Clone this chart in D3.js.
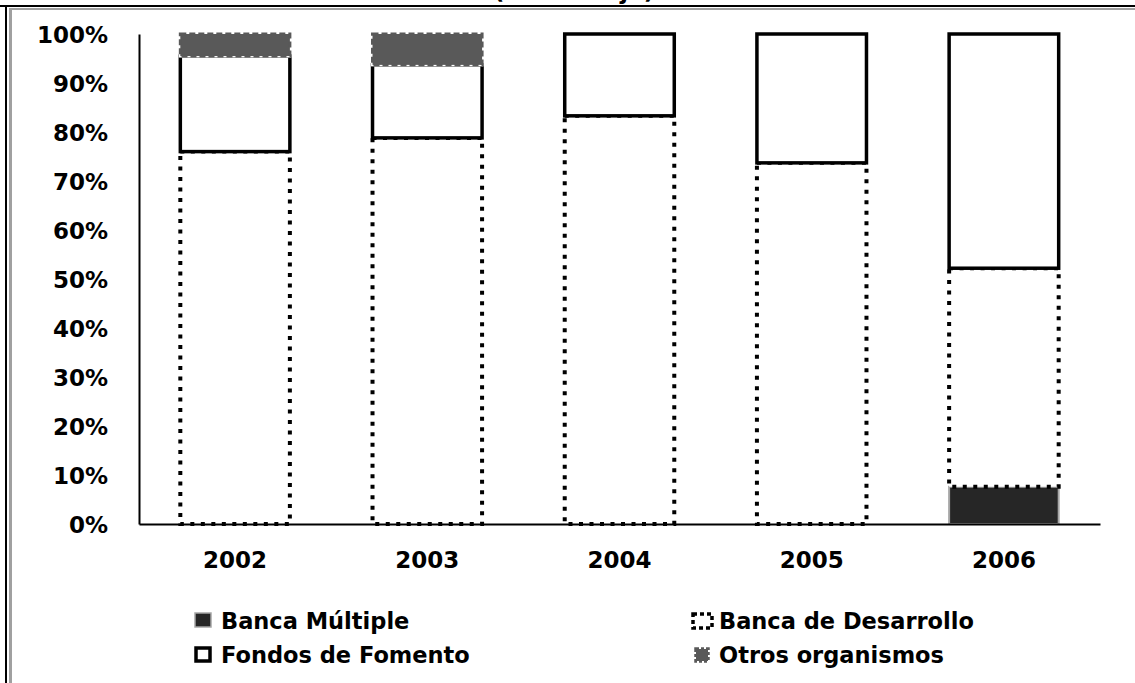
<!DOCTYPE html>
<html>
<head>
<meta charset="utf-8">
<script src="https://cdn.jsdelivr.net/npm/d3@7/dist/d3.min.js"></script>
<style>
  html, body { margin: 0; padding: 0; background: #fff; }
  svg { display: block; }
  text { font-family: "DejaVu Sans", sans-serif; font-weight: bold; fill: #000; }
</style>
</head>
<body>
<svg id="chart" width="1135" height="683"></svg>
<script>
// Composition of financing by source, share of total (%)
const years = ["2002", "2003", "2004", "2005", "2006"];
const bancaMultiple   = [0, 0, 0, 0, 7.6];
const bancaDesarrollo = [76.0, 78.8, 83.3, 73.7, 44.6];
const fondosFomento   = [19.5, 14.9, 16.7, 26.3, 47.8];
const otrosOrganismos = [4.5, 6.3, 0, 0, 0];
const tickValues = [0, 10, 20, 30, 40, 50, 60, 70, 80, 90, 100];
const tickLabels = ["0%", "10%", "20%", "30%", "40%", "50%", "60%", "70%", "80%", "90%", "100%"];
const seriesNames = ["Banca Múltiple", "Banca de Desarrollo", "Fondos de Fomento", "Otros organismos"];
const titleText = "(Porcentaje)";

const keys = ["bm", "bd", "ff", "oo"];
const rows = years.map((y, i) => ({
  year: y,
  bm: bancaMultiple[i],
  bd: bancaDesarrollo[i],
  ff: fondosFomento[i],
  oo: otrosOrganismos[i]
}));

const svg = d3.select("#chart");

const x = d3.scaleBand().domain(years).range([139, 1100]).paddingInner(0.43).paddingOuter(0.215);
const y = d3.scaleLinear().domain([0, 100]).range([524, 34]);

// Series styles
const styles = {
  bm: { fill: "#262626", stroke: "#a6a6a6", width: 2, dash: null, under: false },
  bd: { fill: "#ffffff", stroke: "#000000", width: 4, dash: "4 6.5", under: false },
  ff: { fill: "#ffffff", stroke: "#000000", width: 3.5, dash: null, under: false },
  oo: { fill: "#595959", stroke: "#595959", width: 3, dash: "6 3", under: true }
};

// Title, running off the top edge above the frame
svg.append("text")
  .attr("x", 574).attr("y", -1)
  .attr("text-anchor", "middle")
  .style("font-size", "23px")
  .text(titleText);

// Frame
svg.append("rect").attr("x", 0).attr("y", 5).attr("width", 1135).attr("height", 2).attr("fill", "#000");
svg.append("rect").attr("x", 9).attr("y", 8).attr("width", 1126).attr("height", 2).attr("fill", "#a0a0a0");
svg.append("rect").attr("x", 5).attr("y", 5).attr("width", 2).attr("height", 678).attr("fill", "#000");
svg.append("rect").attr("x", 9).attr("y", 8).attr("width", 3).attr("height", 675).attr("fill", "#a0a0a0");

// Stacked bars
const stacked = d3.stack().keys(keys)(rows);
const layers = svg.append("g").attr("class", "bars");
stacked.forEach(layer => {
  const st = styles[layer.key];
  const g = layers.append("g").attr("class", "series-" + layer.key);
  const data = layer.filter(d => d[1] - d[0] > 0);
  if (st.under) {
    g.selectAll("rect.under").data(data).join("rect")
      .attr("class", "under")
      .attr("x", d => x(d.data.year))
      .attr("width", x.bandwidth())
      .attr("y", d => y(d[1]))
      .attr("height", d => y(d[0]) - y(d[1]))
      .attr("fill", "none")
      .attr("stroke", "#fff")
      .attr("stroke-width", st.width);
  }
  g.selectAll("rect.seg").data(data).join("rect")
    .attr("class", "seg")
    .attr("x", d => x(d.data.year))
    .attr("width", x.bandwidth())
    .attr("y", d => y(d[1]))
    .attr("height", d => y(d[0]) - y(d[1]))
    .attr("fill", st.fill)
    .attr("stroke", st.stroke)
    .attr("stroke-width", st.width)
    .attr("stroke-dasharray", st.dash);
});

// Y axis
const yAxis = d3.axisLeft(y)
  .tickValues(tickValues)
  .tickFormat((d, i) => tickLabels[i])
  .tickSize(0)
  .tickPadding(31);
const gy = svg.append("g").attr("transform", "translate(139,0)").call(yAxis);
gy.select(".domain").attr("stroke", "#000").attr("stroke-width", 2);
gy.selectAll("text").style("font-size", "23px").attr("dy", "0.36em");

// X axis
const xAxis = d3.axisBottom(x).tickSize(0).tickPadding(36);
const gx = svg.append("g").attr("transform", "translate(0,524)").call(xAxis);
gx.select(".domain").attr("stroke", "#000").attr("stroke-width", 2);
gx.selectAll("text").style("font-size", "23px").attr("dy", "0.36em");

// Legend
const legend = svg.append("g").attr("class", "legend");
const legendItems = [
  { key: "bm", name: seriesNames[0], sx: 195, sy: 613, sw: 16, sh: 14, tx: 221, ty: 629 },
  { key: "bd", name: seriesNames[1], sx: 693, sy: 614, sw: 19, sh: 14, tx: 719, ty: 629 },
  { key: "ff", name: seriesNames[2], sx: 196, sy: 648, sw: 14, sh: 13, tx: 221, ty: 663 },
  { key: "oo", name: seriesNames[3], sx: 696, sy: 649, sw: 12, sh: 12, tx: 719, ty: 663 }
];
legendItems.forEach(it => {
  const st = styles[it.key];
  if (st.under) {
    legend.append("rect")
      .attr("x", it.sx).attr("y", it.sy).attr("width", it.sw).attr("height", it.sh)
      .attr("fill", "none").attr("stroke", "#fff").attr("stroke-width", 3);
  }
  legend.append("rect")
    .attr("x", it.sx).attr("y", it.sy).attr("width", it.sw).attr("height", it.sh)
    .attr("fill", st.fill)
    .attr("stroke", st.stroke)
    .attr("stroke-width", it.key === "bm" ? 1.5 : 3.5)
    .attr("stroke-dasharray", it.key === "bd" ? "4 3" : (it.key === "oo" ? "3 2" : null));
  legend.append("text")
    .attr("x", it.tx).attr("y", it.ty)
    .style("font-size", "22.5px")
    .text(it.name);
});
</script>
</body>
</html>
